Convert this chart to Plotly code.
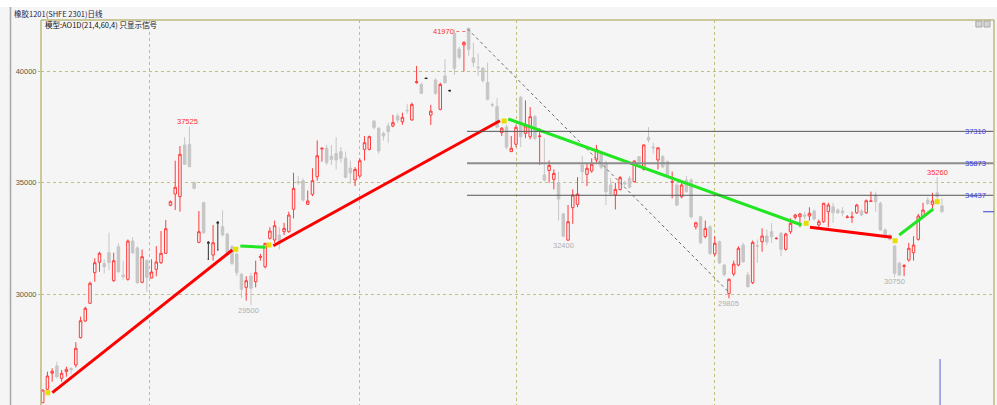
import plotly.graph_objects as go

title_text = "橡胶1201(SHFE 2301)日线"
model_text = "模型:AO1D(21,4,60,4) 只显示信号"

opens = [
    25115, 25717, 26440, 26764, 26210, 26510, 26650, 26810, 28036, 28787,
    29582, 30957, 31425, 31380, 31856, 30598, 32126, 30850, 30660, 32380,
    32067, 30526, 31497, 30720, 31110, 31407, 31829, 33986, 34494, 34373,
    36696, 36727, 35002, 32323, 34103, 32300, 31752, 33200, 33025, 32696,
    32126, 31797, 30885, 30300, 30809, 30553, 31650, 31227, 32500, 32427,
    32650, 32800, 32800, 33806, 35050, 35092, 34030, 34480, 35271, 36520,
    36548, 36200, 36320, 36395, 36100, 35660, 35123, 35300, 36500, 36500,
    37775, 37446, 37220, 37550, 37550, 38000, 37740, 38260, 37820, 39500,
    39420, 39690, 38040, 39617, 38300, 39800, 39140, 41716, 41000, 41190,
    41940, 40620, 40190, 40143, 39500, 38510, 38420, 37250, 37500, 36400,
    36730, 38840, 37220, 37070, 37970, 37080, 35350, 35550, 35150, 35000,
    33600, 32420, 33880, 34030, 35800, 35380, 35528, 36022, 36330, 35900,
    34900, 34450, 34700, 35000, 35200, 35050, 36170, 35600, 37040, 36600,
    36022, 36170, 35950, 35030, 34900, 34370, 35120, 35120, 33020, 33470,
    32580, 33020, 31800, 32350, 31300, 30030, 30899, 31303, 32202, 30854,
    30508, 32180, 32350, 32606, 32800, 32490, 32728, 32009, 32800, 33447,
    33474, 33550, 33505, 33730, 33100, 33250, 33700, 33920, 33775, 33730,
    33440, 33440, 33650, 33730, 33650, 34160, 34450, 34076, 32876, 32650,
    32157, 31380, 31240, 31528, 31856, 32458, 33474, 34224, 34030, 34552, 33955,
]
highs = [
    25700, 26508, 26660, 26957, 26585, 26735, 26700, 27830, 28980, 29430,
    30553, 31604, 31900, 31560, 32755, 31856, 32278, 31500, 32450, 32550,
    32150, 32000, 31550, 31560, 32150, 32830, 33330, 34200, 35990, 36650,
    37050, 37525, 35050, 33730, 34150, 32350, 33100, 33250, 33750, 32750,
    32200, 31850, 30950, 30800, 30950, 31500, 31800, 32300, 33000, 33300,
    33000, 33200, 33700, 35450, 35300, 35200, 34650, 35650, 36900, 36580,
    36700, 36700, 37050, 36600, 36400, 36000, 35700, 36100, 37100, 37120,
    37800, 37500, 37300, 37700, 38050, 38100, 38150, 38550, 38600, 40250,
    39500, 39700, 38500, 39700, 39500, 40550, 39160, 41880, 41100, 41350,
    41970, 41300, 40800, 40200, 40400, 38600, 38800, 37500, 37600, 37100,
    37600, 38900, 38700, 38400, 38050, 37450, 37000, 36000, 35600, 35500,
    33650, 34000, 34700, 35250, 36200, 35850, 36100, 36700, 36400, 36000,
    35200, 35000, 35300, 35100, 35300, 36000, 36200, 36720, 37500, 36800,
    36600, 36250, 36000, 35500, 35000, 35000, 35300, 35200, 33250, 33500,
    33300, 33100, 32600, 32400, 31350, 30700, 31500, 32150, 32300, 31000,
    32400, 32450, 32950, 32900, 33200, 32550, 32800, 32750, 33400, 33600,
    33650, 33700, 33900, 33800, 33350, 34100, 34100, 34100, 33850, 33900,
    33550, 33700, 34050, 33800, 34250, 34600, 34600, 34150, 32950, 32700,
    32200, 31450, 31350, 32300, 32600, 33600, 34100, 34350, 34550, 35260, 34300,
]
lows = [
    25100, 25700, 26060, 26210, 26060, 26283, 26400, 26700, 28000, 28750,
    29550, 30553, 31000, 30930, 31078, 30550, 30950, 30650, 30600, 31800,
    30450, 30480, 30100, 30700, 30800, 31350, 31800, 33950, 33776, 33700,
    35800, 35700, 34700, 32280, 32700, 31560, 31500, 31977, 32600, 31700,
    31300, 30800, 29820, 29700, 29500, 30300, 31500, 31150, 32450, 32300,
    32000, 32650, 32750, 33400, 34900, 34150, 34000, 34400, 35100, 35950,
    35800, 35800, 35600, 35900, 35200, 34960, 34850, 35250, 36000, 36450,
    37400, 36300, 36900, 36800, 37500, 37700, 37600, 38100, 37800, 39450,
    39000, 39680, 37600, 38950, 38250, 39450, 39120, 39850, 40550, 40000,
    40700, 40200, 39800, 39500, 38700, 38400, 37450, 37100, 36500, 36380,
    36600, 36600, 37000, 36950, 36900, 35800, 35050, 35000, 34700, 33300,
    32550, 32400, 33150, 33900, 35000, 34850, 35450, 35900, 35600, 34000,
    34400, 33800, 34650, 34850, 34750, 35000, 35900, 35550, 36800, 36300,
    35600, 35650, 35300, 34300, 33950, 34300, 34550, 33400, 32900, 32250,
    32500, 31750, 31700, 31350, 30800, 29805, 30800, 31250, 31400, 30300,
    30450, 31400, 31900, 32200, 32300, 32450, 31700, 31950, 32700, 33350,
    33000, 33350, 33300, 33300, 32950, 33200, 33000, 33200, 33600, 33500,
    33400, 33200, 33600, 33500, 33600, 34150, 33700, 32850, 32500, 32400,
    30750, 30800, 30800, 31450, 31500, 32400, 33400, 34000, 33850, 34200, 33650,
]
closes = [
    25686, 26315, 26530, 26283, 26436, 26615, 26600, 27560, 28800, 29357,
    30481, 31407, 31829, 31227, 31407, 31496, 31002, 30780, 32380, 31856,
    30508, 31676, 30750, 30990, 31438, 31829, 32934, 34148, 34795, 36278,
    35829, 35720, 34750, 32800, 32755, 32300, 32305, 33200, 32651, 31752,
    31380, 30957, 30211, 30598, 30256, 30957, 31680, 32278, 32830, 33070,
    32280, 32950, 33550, 34750, 35000, 34224, 34180, 35092, 36215, 36548,
    35900, 36050, 36022, 36100, 35244, 35440, 35600, 35990, 36800, 37070,
    37490, 36426, 37100, 37294, 37700, 37820, 37940, 38240, 38520, 39540,
    39020, 39690, 38220, 39020, 39420, 39500, 39140, 40143, 40640, 41310,
    40996, 40400, 40170, 39586, 38750, 38490, 37500, 37450, 36600, 36550,
    37490, 37070, 37550, 37970, 37000, 37100, 35120, 35780, 35420, 34270,
    32600, 33250, 34450, 34494, 35500, 35650, 35830, 36500, 35700, 34600,
    34500, 34700, 35230, 34950, 34800, 35980, 35950, 36700, 36920, 36570,
    36570, 35720, 35350, 35050, 34000, 34900, 34600, 33470, 33200, 32300,
    32950, 31830, 32280, 31400, 30870, 30660, 31348, 32054, 31452, 30328,
    32323, 32150, 32606, 32337, 32575, 32503, 32009, 32696, 33177, 33550,
    33595, 33500, 33626, 33370, 33250, 34076, 34000, 33650, 33650, 33650,
    33460, 33460, 34000, 33550, 34193, 34180, 34148, 32876, 32575, 32458,
    30930, 30854, 31270, 32054, 32202, 33505, 33775, 34076, 34180, 34373, 33700,
]
doji_idx = [35, 37, 81, 86]

# y-axis ticks
y_ticks = [30000, 35000, 40000]
y_ticktext = ["30000", "35000", "40000"]
# period separators (bar positions)
period_lines = [22.46, 67.04, 100.2, 141.85]

# signal segments (bar index, price)
red_segments = [
    ([2.03, 40.06], [25565, 31977]),
    ([48.72, 96.62], [32171, 37788]),
    ([162.12, 179.38], [32997, 32548]),
]
green_segments = [
    ([41.75, 47.12], [32157, 32099]),
    ([98.37, 160.36], [37865, 33101]),
    ([180.98, 188.17], [32652, 33820]),
]
signal_x = [1.06, 40.8, 47.8, 97.5, 161.3, 180.1, 189.0]
signal_y = [25565, 32009, 32202, 37775, 33177, 32395, 34148]

# dotted trend line from top to bottom
trend_x = [89.8, 145.2]
trend_y = [41909, 30031]

# horizontal levels
levels = [37310, 35873, 34437]
level_labels = ["37310", "35873", "34437"]
level_start = 89.65

# price marks
mark_x = [30.5, 43.4, 110.1, 145.0, 179.9, 189.0]
mark_y = [37775, 29281, 32202, 29596, 30584, 35483]
mark_text = ["37525", "29500", "32400", "29805", "30750", "35260"]
mark_red = [True, False, False, False, False, True]

peak_label = "41970"
peak_x = 87.3
peak_y = 41797
peak_tip = 89.6

N = len(opens)
x_all = list(range(N))
main_idx = [i for i in x_all if i not in doji_idx]

RED = "#ff3c3c"
GRAY = "#c6c6c6"
BG = "#f5f5f5"
OLIVE = "#bdb97a"
GRID = "#c4c07c"

fig = go.Figure()

fig.add_trace(go.Candlestick(
    x=main_idx,
    open=[opens[i] for i in main_idx],
    high=[highs[i] for i in main_idx],
    low=[lows[i] for i in main_idx],
    close=[closes[i] for i in main_idx],
    increasing=dict(line=dict(color=RED, width=1), fillcolor=BG),
    decreasing=dict(line=dict(color=GRAY, width=1), fillcolor=GRAY),
    whiskerwidth=0,
    hoverinfo="skip",
))
fig.add_trace(go.Candlestick(
    x=doji_idx,
    open=[opens[i] for i in doji_idx],
    high=[highs[i] for i in doji_idx],
    low=[lows[i] for i in doji_idx],
    close=[closes[i] for i in doji_idx],
    increasing=dict(line=dict(color="#333333", width=1), fillcolor="#333333"),
    decreasing=dict(line=dict(color="#333333", width=1), fillcolor="#333333"),
    whiskerwidth=0.6,
    hoverinfo="skip",
))

# dotted trend line
fig.add_trace(go.Scatter(x=trend_x, y=trend_y, mode="lines",
                         line=dict(color="#6a6a6a", width=1, dash="dot"),
                         hoverinfo="skip"))

for sx, sy in red_segments:
    fig.add_trace(go.Scatter(x=sx, y=sy, mode="lines",
                             line=dict(color="#ff0000", width=3), hoverinfo="skip"))
for sx, sy in green_segments:
    fig.add_trace(go.Scatter(x=sx, y=sy, mode="lines",
                             line=dict(color="#22e622", width=3), hoverinfo="skip"))

fig.add_trace(go.Scatter(x=signal_x, y=signal_y, mode="markers",
                         marker=dict(symbol="square", size=5, color="#e8dc00",
                                     line=dict(width=0)),
                         hoverinfo="skip"))

shapes = []
# horizontal level lines
for k, lv in enumerate(levels):
    shapes.append(dict(type="line", xref="x", yref="y", x0=level_start, x1=201.0,
                       y0=lv, y1=lv,
                       line=dict(color="#8c8c8c" if k == 1 else "#555555",
                                 width=2 if k == 1 else 1)))
# borders
shapes += [
    dict(type="line", xref="paper", yref="paper", x0=0, x1=0, y0=0, y1=1,
         line=dict(color=OLIVE, width=1.5)),
    dict(type="line", xref="paper", yref="paper", x0=1, x1=1, y0=0, y1=1,
         line=dict(color=OLIVE, width=1.5)),
    dict(type="line", xref="paper", yref="paper", x0=0, x1=1, y0=1, y1=1,
         line=dict(color=OLIVE, width=1.5)),
    dict(type="line", xref="paper", yref="paper", x0=-0.032, x1=-0.032,
         y0=0, y1=1.034, line=dict(color="#a8a8a8", width=1.5)),
    dict(type="rect", xref="paper", yref="paper", x0=-0.05, x1=1.01,
         y0=1.034, y1=1.06, fillcolor="#ffffff", line=dict(width=0), layer="below"),
    dict(type="rect", xref="paper", yref="paper", x0=0.981, x1=0.9874,
         y0=0.9818, y1=0.9974, fillcolor="#d4d4d4", line=dict(color="#a8a8a8", width=1)),
    dict(type="rect", xref="paper", yref="paper", x0=0.9895, x1=0.9958,
         y0=0.9818, y1=0.9974, fillcolor="#d4d4d4", line=dict(color="#a8a8a8", width=1)),
    # blue markers on the right
    dict(type="line", xref="x", yref="y", x0=198.7, x1=201.0, y0=33699, y1=33699,
         line=dict(color="#5a5ad8", width=1.2)),
    dict(type="line", xref="x", yref="y", x0=189.6, x1=189.6, y0=25012, y1=27079,
         line=dict(color="#7878d8", width=1.2)),
    # 41970 pointer
    dict(type="line", xref="x", yref="y", x0=peak_x + 0.1, x1=peak_tip, y0=peak_y, y1=peak_y,
         line=dict(color="#ff6a6a", width=1, dash="dot")),
]

annotations = [
    dict(text=title_text, xref="paper", yref="paper", x=-0.0304, y=1.018,
         xanchor="left", yanchor="middle", showarrow=False,
         font=dict(size=7.5, color="#1a1a50", family="Noto Sans CJK SC")),
    dict(text=model_text, xref="paper", yref="paper", x=0.0025, y=0.9896,
         xanchor="left", yanchor="middle", showarrow=False,
         font=dict(size=7.5, color="#111111", family="Noto Sans CJK SC")),
    dict(text=peak_label, xref="x", yref="y", x=peak_x, y=peak_y,
         xanchor="right", yanchor="middle", showarrow=False,
         font=dict(size=7.5, color="#ff3030", family="Liberation Sans")),
]
for mx, my, mt, mr in zip(mark_x, mark_y, mark_text, mark_red):
    annotations.append(dict(text=mt, xref="x", yref="y", x=mx, y=my,
                            xanchor="center", yanchor="middle", showarrow=False,
                            font=dict(size=7.5, color="#ff3030" if mr else "#b0b0b0",
                                      family="Liberation Sans")))
for lv, lt in zip(levels, level_labels):
    annotations.append(dict(text=lt, xref="x", yref="y", x=197.0, y=lv,
                            xanchor="center", yanchor="middle", showarrow=False,
                            font=dict(size=7.5, color="#3c3cf0", family="Liberation Sans")))

fig.update_layout(
    width=997, height=405,
    margin=dict(l=41, r=3, t=20, b=0),
    paper_bgcolor=BG, plot_bgcolor=BG,
    showlegend=False,
    boxgap=0.25,
    shapes=shapes,
    annotations=annotations,
    font=dict(family="Liberation Sans", size=8, color="#555555"),
    xaxis=dict(range=[-0.36, 201.0], tickvals=period_lines, showticklabels=False,
               ticks="", showgrid=True, gridcolor=GRID, griddash="dot", gridwidth=1,
               zeroline=False, showline=False, rangeslider=dict(visible=False),
               fixedrange=True),
    yaxis=dict(range=[25012, 42314], tickvals=y_ticks, ticktext=y_ticktext,
               showgrid=True, gridcolor=GRID, griddash="dot", gridwidth=1,
               zeroline=False, showline=False, ticks="outside", ticklen=2,
               tickcolor=OLIVE, tickfont=dict(size=7.5, color="#5a5a3a",
                                              family="Liberation Sans"),
               fixedrange=True),
)

fig.write_html(
    "out.html",
    config={"displayModeBar": False, "staticPlot": True},
    post_script="document.body.style.margin='0';document.body.style.overflow='hidden';",
)
